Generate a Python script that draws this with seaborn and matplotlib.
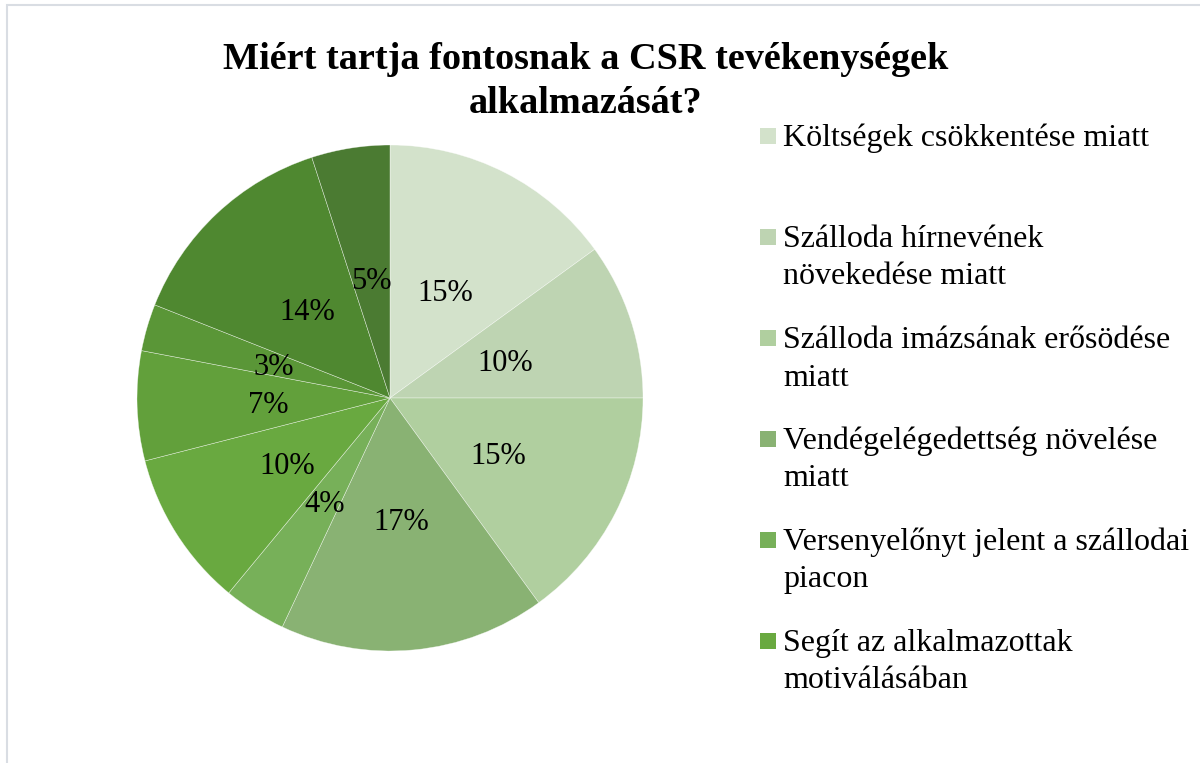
import matplotlib.pyplot as plt
import seaborn as sns
from matplotlib.patches import Rectangle

# Data (percent of answers, clockwise from top)
shares = [15, 10, 15, 17, 4, 10, 7, 3, 14, 5]
slice_colors = ['#d3e2cb', '#bed4b2', '#b0cf9f', '#89b273', '#77b059',
                '#69a940', '#62a03b', '#5a9637', '#4f8830', '#4b7b32']
legend_labels = [
    'Költségek csökkentése miatt',
    'Szálloda hírnevének\nnövekedése miatt',
    'Szálloda imázsának erősödése\nmiatt',
    'Vendégelégedettség növelése\nmiatt',
    'Versenyelőnyt jelent a szállodai\npiacon',
    'Segít az alkalmazottak\nmotiválásában',
]
title = 'Miért tartja fontosnak a CSR tevékenységek\nalkalmazását?'

sns.set_style("white")
plt.rcParams['font.family'] = ['Liberation Serif', 'DejaVu Serif']
plt.rcParams['text.color'] = 'black'

W, H = 1200, 763
fig = plt.figure(figsize=(W / 100, H / 100), dpi=100)

# pie centre and radius in pixels
cx, cy, r = 390, 398, 253
ax = fig.add_axes([(cx - r) / W, (H - cy - r) / H, 2 * r / W, 2 * r / H])

wedges, _, autotexts = ax.pie(
    shares, colors=slice_colors, startangle=90, counterclock=False,
    autopct='%1.0f%%', pctdistance=0.48,
    wedgeprops=dict(edgecolor=(1, 1, 1, 0.6), linewidth=0.4),
    textprops=dict(fontsize=22, color='black'))
for t in autotexts:
    t.set_va('center_baseline')
ax.set_xlim(-1, 1)
ax.set_ylim(-1, 1)
ax.set_aspect('equal')

# title, one line at a time (baselines in px from top)
for j, line in enumerate(title.split('\n')):
    fig.text(586 / W, 1 - (69 + 44 * j) / H, line, ha='center', va='baseline',
             fontsize=27.5, fontweight='bold')

# legend (only the first six entries are visible in the original chart)
for i, (lab, w) in enumerate(zip(legend_labels, wedges)):
    base = 146 + 101 * i
    fig.patches.append(Rectangle((760 / W, 1 - (base - 2) / H), 16 / W, 16 / H,
                                 transform=fig.transFigure,
                                 facecolor=w.get_facecolor(), edgecolor='none'))
    for j, line in enumerate(lab.split('\n')):
        fig.text(783 / W, 1 - (base + 37.5 * j) / H, line, ha='left',
                 va='baseline', fontsize=23)

# chart frame (light grey border on left/top)
fig.patches.append(Rectangle((7 / W, -0.1), 1.2, 1 - 5 / H + 0.1,
                             transform=fig.transFigure, fill=False,
                             edgecolor='#d9dde3', linewidth=1.5))

fig.savefig('out.png', dpi=100)
